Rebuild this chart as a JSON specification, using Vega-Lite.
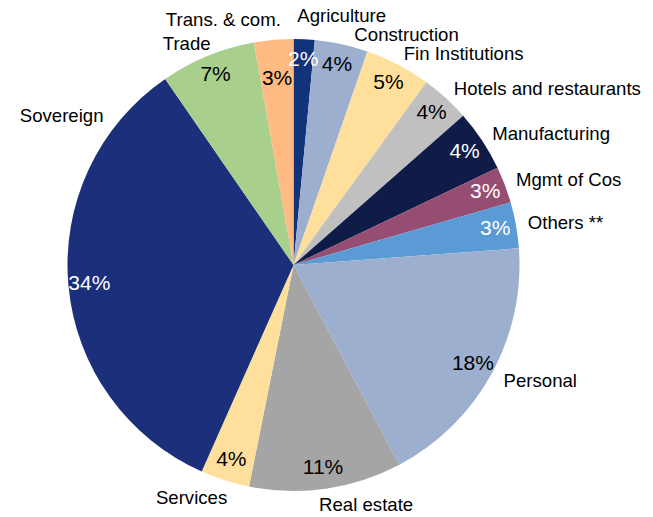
{
  "$schema": "https://vega.github.io/schema/vega-lite/v6.json",
  "autosize": {"type": "none"},
  "width": 587,
  "height": 500,
  "padding": {"left": 0, "top": 15, "right": 66, "bottom": 2},
  "background": "white",
  "config": {"view": {"stroke": null}, "text": {"font": "Liberation Sans"}},
  "data": {
    "values": [
      {"idx": 1, "category": "Agriculture", "value": 1.5, "label": "2%"},
      {"idx": 2, "category": "Construction", "value": 3.8, "label": "4%"},
      {"idx": 3, "category": "Fin Institutions", "value": 4.7, "label": "5%"},
      {"idx": 4, "category": "Hotels and restaurants", "value": 3.5, "label": "4%"},
      {"idx": 5, "category": "Manufacturing", "value": 4.4, "label": "4%"},
      {"idx": 6, "category": "Mgmt of Cos", "value": 2.6, "label": "3%"},
      {"idx": 7, "category": "Others **", "value": 3.3, "label": "3%"},
      {"idx": 8, "category": "Personal", "value": 18.4, "label": "18%"},
      {"idx": 9, "category": "Real estate", "value": 10.9, "label": "11%"},
      {"idx": 10, "category": "Services", "value": 3.5, "label": "4%"},
      {"idx": 11, "category": "Sovereign", "value": 33.7, "label": "34%"},
      {"idx": 12, "category": "Trade", "value": 6.8, "label": "7%"},
      {"idx": 13, "category": "Trans. & com.", "value": 2.8, "label": "3%"}
    ]
  },
  "encoding": {
    "theta": {"field": "value", "type": "quantitative", "stack": true},
    "order": {"field": "idx", "type": "quantitative", "sort": "ascending"}
  },
  "layer": [
    {
      "mark": {"type": "arc", "outerRadius": 226},
      "encoding": {
        "color": {
          "field": "category", "type": "nominal", "legend": null,
          "scale": {
            "domain": ["Agriculture", "Construction", "Fin Institutions", "Hotels and restaurants", "Manufacturing", "Mgmt of Cos", "Others **", "Personal", "Real estate", "Services", "Sovereign", "Trade", "Trans. & com."],
            "range": ["#12327A", "#9DAFCF", "#FFDF9C", "#C0C0C0", "#0F1C48", "#964D72", "#5B9BD5", "#9DAFCF", "#A5A5A5", "#FFDF9C", "#1B2F7A", "#A9CF8C", "#FFBB82"]
          }
        }
      }
    },
    {
      "mark": {"type": "text", "radius": 205, "fontSize": 21, "align": "center", "baseline": "middle"},
      "encoding": {
        "text": {"condition": {"test": "datum.category !== 'Trans. & com.'", "field": "label", "type": "nominal"}, "value": ""},
        "color": {
          "condition": {"test": "indexof(['Agriculture','Manufacturing','Mgmt of Cos','Others **','Sovereign'], datum.category) >= 0", "value": "white"},
          "value": "black"
        }
      }
    },
    {
      "mark": {"type": "text", "radius": 187, "fontSize": 21, "align": "center", "baseline": "middle", "color": "black"},
      "encoding": {
        "text": {"condition": {"test": "datum.category === 'Trans. & com.'", "field": "label", "type": "nominal"}, "value": ""}
      }
    },
    {
      "mark": {"type": "text", "radius": 238, "fontSize": 18.6, "align": "left", "baseline": "middle", "color": "black"},
      "encoding": {
        "text": {"condition": {"test": "indexof(['Fin Institutions','Hotels and restaurants','Manufacturing','Mgmt of Cos','Others **'], datum.category) >= 0", "field": "category", "type": "nominal"}, "value": ""}
      }
    },
    {
      "mark": {"type": "text", "radius": 240, "fontSize": 18.6, "align": "left", "baseline": "middle", "color": "black"},
      "encoding": {
        "text": {"condition": {"test": "datum.category === 'Personal'", "field": "category", "type": "nominal"}, "value": ""}
      }
    },
    {
      "mark": {"type": "text", "radius": 249, "dx": -8, "fontSize": 18.6, "align": "left", "baseline": "middle", "color": "black"},
      "encoding": {
        "text": {"condition": {"test": "datum.category === 'Agriculture'", "field": "category", "type": "nominal"}, "value": ""}
      }
    },
    {
      "mark": {"type": "text", "radius": 235, "dx": 11, "fontSize": 18.6, "align": "left", "baseline": "middle", "color": "black"},
      "encoding": {
        "text": {"condition": {"test": "datum.category === 'Construction'", "field": "category", "type": "nominal"}, "value": ""}
      }
    },
    {
      "mark": {"type": "text", "radius": 233, "dx": -8, "fontSize": 18.6, "align": "left", "baseline": "top", "color": "black"},
      "encoding": {
        "text": {"condition": {"test": "datum.category === 'Real estate'", "field": "category", "type": "nominal"}, "value": ""}
      }
    },
    {
      "mark": {"type": "text", "radius": 235, "dx": 5, "fontSize": 18.6, "align": "right", "baseline": "top", "color": "black"},
      "encoding": {
        "text": {"condition": {"test": "datum.category === 'Services'", "field": "category", "type": "nominal"}, "value": ""}
      }
    },
    {
      "mark": {"type": "text", "radius": 239, "dx": 8, "fontSize": 18.6, "align": "right", "baseline": "middle", "color": "black"},
      "encoding": {
        "text": {"condition": {"test": "datum.category === 'Trade'", "field": "category", "type": "nominal"}, "value": ""}
      }
    },
    {
      "mark": {"type": "text", "radius": 246, "dx": 9, "fontSize": 18.6, "align": "right", "baseline": "middle", "color": "black"},
      "encoding": {
        "text": {"condition": {"test": "datum.category === 'Trans. & com.'", "field": "category", "type": "nominal"}, "value": ""}
      }
    },
    {
      "mark": {"type": "text", "radius": 238, "dx": 47, "dy": -171, "fontSize": 18.6, "align": "right", "baseline": "middle", "color": "black"},
      "encoding": {
        "text": {"condition": {"test": "datum.category === 'Sovereign'", "field": "category", "type": "nominal"}, "value": ""}
      }
    }
  ]
}
